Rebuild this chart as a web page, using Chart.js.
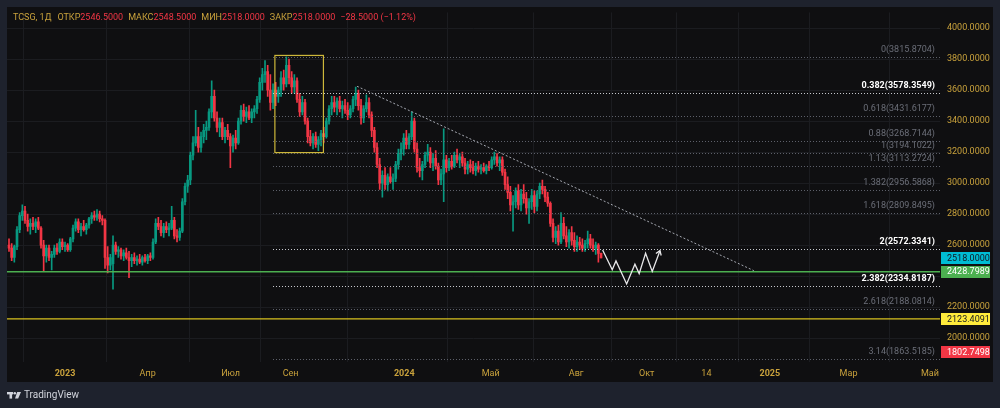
<!DOCTYPE html>
<html lang="ru">
<head>
  <meta charset="UTF-8">
  <title>TCSG, 1Д</title>
  <script src="https://cdn.jsdelivr.net/npm/chart.js@4.4.1/dist/chart.umd.min.js"></script>
  <style>
    html, body { margin: 0; padding: 0; background: #1e222d; }
    #wrap { width: 1000px; height: 408px; }
  </style>
</head>
<body>
<div id="wrap"><canvas id="chart" width="1000" height="408"></canvas></div>
<script>
// daily candles (one bar per ~2 sessions)
var opens = [2600,2580,2520,2590,2700,2790,2820,2760,2720,2740,2720,2750,2710,2600,2530,2580,2520,2540,2580,2560,2620,2590,2600,2570,2640,2710,2750,2700,2720,2700,2730,2770,2790,2780,2800,2770,2760,2520,2470,2480,2600,2560,2570,2530,2550,2520,2500,2520,2500,2510,2490,2520,2500,2530,2520,2620,2740,2720,2680,2720,2700,2710,2760,2660,2650,2690,2880,2980,3020,3180,3260,3300,3230,3300,3340,3360,3460,3560,3420,3360,3390,3300,3340,3300,3240,3290,3260,3400,3470,3430,3460,3420,3460,3480,3540,3650,3700,3720,3600,3520,3600,3560,3600,3680,3640,3760,3680,3620,3660,3540,3460,3520,3400,3300,3260,3300,3250,3280,3320,3300,3400,3480,3520,3490,3530,3480,3500,3470,3440,3480,3540,3580,3500,3420,3480,3520,3440,3340,3230,3120,3000,3050,2990,3040,3010,3030,3120,3190,3220,3290,3250,3300,3400,3220,3100,3080,3120,3180,3200,3130,3160,3110,3020,3060,3150,3100,3140,3110,3180,3150,3170,3130,3090,3120,3100,3080,3110,3090,3100,3080,3110,3100,3150,3170,3130,3150,3070,2990,2940,2860,2880,2950,2860,2930,2900,2840,2880,2920,2850,2930,2980,2960,2910,2870,2740,2650,2690,2620,2740,2660,2620,2680,2630,2590,2620,2600,2580,2610,2640,2600,2580,2600,2546.5];
var highs = [2640,2610,2600,2720,2810,2860,2850,2800,2770,2780,2770,2780,2720,2630,2600,2600,2560,2600,2610,2640,2640,2620,2610,2650,2730,2770,2770,2740,2760,2740,2780,2810,2820,2830,2820,2790,2770,2590,2540,2660,2620,2590,2580,2570,2580,2560,2540,2550,2530,2540,2530,2540,2540,2550,2640,2770,2780,2760,2740,2750,2740,2850,2780,2700,2710,2900,3000,3050,3200,3300,3470,3360,3330,3380,3400,3480,3660,3600,3460,3420,3420,3360,3380,3320,3310,3340,3420,3500,3510,3490,3500,3480,3500,3560,3680,3740,3790,3760,3700,3640,3650,3620,3720,3730,3815,3800,3720,3700,3680,3580,3560,3540,3420,3340,3320,3330,3300,3340,3360,3420,3500,3560,3560,3550,3560,3530,3540,3520,3500,3560,3620,3600,3540,3500,3570,3550,3460,3360,3260,3160,3080,3100,3060,3100,3060,3140,3220,3260,3320,3340,3320,3460,3420,3260,3160,3140,3200,3250,3230,3190,3210,3130,3090,3350,3180,3160,3180,3200,3220,3190,3200,3160,3140,3150,3140,3130,3140,3120,3130,3120,3140,3170,3200,3190,3170,3170,3090,3040,2980,2920,2970,2990,2960,2990,2940,2900,2960,2950,2950,3000,3020,2980,2940,2880,2770,2720,2730,2810,2780,2720,2700,2720,2680,2660,2650,2640,2630,2690,2670,2640,2620,2610,2548.5];
var lows = [2560,2500,2490,2570,2680,2760,2740,2690,2670,2700,2680,2700,2580,2430,2490,2500,2440,2520,2540,2550,2570,2560,2560,2560,2620,2690,2680,2660,2690,2670,2710,2740,2760,2760,2750,2730,2450,2420,2440,2315,2540,2520,2510,2500,2510,2390,2460,2480,2470,2480,2470,2490,2480,2500,2510,2610,2700,2660,2650,2680,2660,2700,2640,2620,2630,2680,2860,2940,2990,3150,3240,3200,3200,3260,3280,3340,3420,3400,3330,3300,3280,3260,3280,3100,3200,3220,3250,3380,3400,3390,3410,3390,3420,3450,3520,3600,3650,3560,3470,3480,3500,3520,3560,3600,3620,3640,3580,3580,3520,3430,3440,3380,3260,3240,3220,3230,3210,3240,3260,3290,3380,3440,3460,3440,3460,3420,3450,3410,3420,3460,3500,3470,3380,3390,3460,3420,3300,3200,3100,2960,2910,2960,2950,3000,2960,3010,3090,3150,3180,3220,3220,3280,3200,3070,3040,3020,3100,3140,3100,3080,3090,2990,2990,2880,3070,3080,3090,3100,3130,3100,3110,3060,3060,3070,3060,3050,3070,3060,3070,3060,3080,3090,3120,3110,3080,3050,2960,2900,2820,2690,2840,2830,2820,2870,2800,2740,2830,2810,2820,2900,2930,2880,2850,2720,2620,2610,2600,2610,2640,2590,2580,2600,2560,2560,2570,2560,2560,2580,2580,2560,2540,2490,2518];
var closes = [2580,2520,2590,2700,2790,2820,2760,2720,2740,2720,2750,2710,2600,2530,2580,2520,2540,2580,2560,2620,2590,2600,2570,2640,2710,2750,2700,2720,2700,2730,2770,2790,2780,2800,2770,2760,2520,2470,2520,2600,2560,2570,2530,2550,2520,2500,2520,2500,2510,2490,2520,2500,2530,2520,2620,2740,2720,2680,2720,2700,2710,2760,2660,2650,2690,2880,2980,3020,3180,3260,3300,3230,3300,3340,3360,3460,3560,3420,3360,3390,3300,3340,3300,3240,3290,3260,3400,3470,3430,3460,3420,3460,3480,3540,3650,3700,3720,3600,3520,3600,3560,3600,3680,3640,3760,3680,3620,3660,3540,3460,3520,3400,3300,3260,3300,3250,3280,3320,3300,3400,3480,3520,3490,3530,3480,3500,3470,3440,3480,3540,3580,3500,3420,3480,3520,3440,3340,3230,3120,3000,3050,2990,3040,3010,3030,3120,3190,3220,3290,3250,3300,3400,3220,3100,3080,3120,3180,3200,3130,3160,3110,3020,3060,3150,3100,3140,3110,3180,3150,3170,3130,3090,3120,3100,3080,3110,3090,3100,3080,3110,3100,3150,3170,3130,3150,3070,2990,2940,2860,2880,2950,2860,2930,2900,2840,2880,2920,2850,2930,2980,2960,2910,2870,2740,2650,2690,2620,2740,2660,2620,2680,2630,2590,2620,2600,2580,2610,2640,2600,2580,2600,2546.5,2518];

// time axis (positions in bar units) and price axis
var tickPos    = [21.0, 52.0, 83.1, 105.6, 148.2, 180.6, 212.7, 239.1, 261.5, 285.3, 314.8, 345.3];
var tickLabels = ['2023','Апр','Июл','Сен','2024','Май','Авг','Окт','14','2025','Мар','Май'];
var priceTicks = [2000, 2200, 2400, 2600, 2800, 3000, 3200, 3400, 3600, 3800, 4000];

// fibonacci extension
var fibRatios = ['0','0.382','0.618','0.88','1','1.13','1.382','1.618','2','2.382','2.618','3.14'];
var fibPrices = [3815.8704,3578.3549,3431.6177,3268.7144,3194.1022,3113.2724,2956.5868,2809.8495,2572.3341,2334.8187,2188.0814,1863.5185];
var fibBold   = ['0.382','2','2.382'];
var fibStart  = 99;

// drawings
var boxX = [99.7, 117.9], boxY = [3824, 3197];
var trendX = [130.5, 279.3], trendY = [3625, 2435];
var zigX = [222.6, 226.2, 227.6, 231.6, 234.7, 236.3, 238.7, 241.2, 244.1];
var zigY = [2568, 2441, 2498, 2349, 2477, 2416, 2547, 2430, 2564];
var greenLevel = 2428.7989;
var yellowLevel = 2123.4091;
var redLevel = 1802.7498;

var UP = '#089981', DOWN = '#f23645';
var GOLD = '#c9a23c';
var FONT = 'Roboto, "Liberation Sans", sans-serif';

var idx = closes.map(function (c, i) { return i; });
var wickData = idx.map(function (i) { return {x: i, y: [lows[i], highs[i]]}; });
var bodyData = idx.map(function (i) {
  return {x: i, y: [Math.min(opens[i], closes[i]), Math.max(opens[i], closes[i])]};
});
function colorOf(c) { var i = c.dataIndex; return closes[i] >= opens[i] ? UP : DOWN; }

function fmt(v) { return (v < 0 ? '\u2212' : '') + Math.abs(v).toFixed(4); }

var decor = {
  id: 'decor',
  beforeDraw: function (chart) {
    var ctx = chart.ctx;
    ctx.save();
    ctx.fillStyle = '#1e222d';
    ctx.fillRect(0, 0, 1000, 408);
    ctx.fillStyle = '#0f0f11';
    ctx.fillRect(7, 7, 986, 375);
    ctx.restore();
  },
  afterDatasetsDraw: function (chart) {
    var ctx = chart.ctx, xs = chart.scales.x, ys = chart.scales.y, a = chart.chartArea;
    function px(v) { return xs.getPixelForValue(v); }
    function py(v) { return ys.getPixelForValue(v); }
    ctx.save();
    ctx.beginPath();
    ctx.rect(a.left, a.top, a.right - a.left, a.bottom - a.top);
    ctx.clip();

    // horizontal levels
    ctx.lineWidth = 1.5;
    ctx.strokeStyle = '#4caf50';
    ctx.beginPath(); ctx.moveTo(a.left, py(greenLevel)); ctx.lineTo(a.right, py(greenLevel)); ctx.stroke();
    ctx.lineWidth = 1.3;
    ctx.strokeStyle = '#d9c21f';
    ctx.beginPath(); ctx.moveTo(a.left, py(yellowLevel)); ctx.lineTo(a.right, py(yellowLevel)); ctx.stroke();

    // fib levels
    ctx.textAlign = 'right';
    ctx.textBaseline = 'bottom';
    fibPrices.forEach(function (p, k) {
      var bold = fibBold.indexOf(fibRatios[k]) >= 0;
      var y = Math.round(py(p)) + 0.5;
      ctx.setLineDash([1, 2]);
      ctx.strokeStyle = bold ? '#c9cbd1' : '#5f626c';
      ctx.lineWidth = 1;
      ctx.beginPath(); ctx.moveTo(px(fibStart), y); ctx.lineTo(a.right, y); ctx.stroke();
      ctx.setLineDash([]);
      ctx.font = (bold ? 'bold ' : '') + '9px ' + FONT;
      ctx.fillStyle = bold ? '#ffffff' : '#6b6e78';
      ctx.fillText(fibRatios[k] + '(' + p.toFixed(4) + ')', a.right - 5, y - 3);
    });

    // yellow box
    ctx.strokeStyle = '#cdb73a';
    ctx.lineWidth = 1.2;
    ctx.strokeRect(px(boxX[0]), py(boxY[0]), px(boxX[1]) - px(boxX[0]), py(boxY[1]) - py(boxY[0]));

    // trend line
    ctx.setLineDash([2, 2]);
    ctx.strokeStyle = '#a4a7b0';
    ctx.lineWidth = 1;
    ctx.beginPath(); ctx.moveTo(px(trendX[0]), py(trendY[0])); ctx.lineTo(px(trendX[1]), py(trendY[1])); ctx.stroke();
    ctx.setLineDash([]);

    // projected path
    ctx.strokeStyle = '#e8e8ea';
    ctx.lineWidth = 1.3;
    ctx.lineJoin = 'miter';
    ctx.beginPath();
    zigX.forEach(function (v, k) {
      if (k === 0) ctx.moveTo(px(v), py(zigY[k])); else ctx.lineTo(px(v), py(zigY[k]));
    });
    ctx.stroke();
    var n = zigX.length - 1;
    var ex = px(zigX[n]), ey = py(zigY[n]);
    var ang = Math.atan2(ey - py(zigY[n - 1]), ex - px(zigX[n - 1]));
    ctx.beginPath();
    ctx.moveTo(ex - 5 * Math.cos(ang - 0.6), ey - 5 * Math.sin(ang - 0.6));
    ctx.lineTo(ex, ey);
    ctx.lineTo(ex - 5 * Math.cos(ang + 0.6), ey - 5 * Math.sin(ang + 0.6));
    ctx.stroke();
    ctx.restore();
  },
  afterDraw: function (chart) {
    var ctx = chart.ctx, ys = chart.scales.y, a = chart.chartArea;
    ctx.save();

    // price labels on the axis
    var last = closes.length - 1;
    var tags = [
      [closes[last], '#00bcd4', '#131722'],
      [greenLevel, '#4caf50', '#ffffff'],
      [yellowLevel, '#ffeb3b', '#131722'],
      [redLevel, '#f23645', '#ffffff']
    ];
    ctx.font = '9px ' + FONT;
    ctx.textAlign = 'left';
    ctx.textBaseline = 'middle';
    tags.forEach(function (t) {
      var y = Math.min(ys.getPixelForValue(t[0]), a.bottom - 10);
      ctx.fillStyle = t[1];
      ctx.fillRect(a.right + 1, Math.round(y - 6), 49, 12);
      ctx.fillStyle = t[2];
      ctx.fillText(t[0].toFixed(4), a.right + 7, y + 0.5);
    });

    // legend line
    var chg = closes[last] - closes[last - 1];
    var pct = chg / closes[last - 1] * 100;
    var parts = [
      ['TCSG, 1Д', GOLD, 6],
      ['ОТКР', GOLD, 0], [opens[last].toFixed(4), DOWN, 5],
      ['МАКС', GOLD, 0], [highs[last].toFixed(4), DOWN, 5],
      ['МИН', GOLD, 0], [lows[last].toFixed(4), DOWN, 5],
      ['ЗАКР', GOLD, 0], [closes[last].toFixed(4), DOWN, 5],
      [fmt(chg) + ' (' + (pct < 0 ? '\u2212' : '') + Math.abs(pct).toFixed(2) + '%)', DOWN, 0]
    ];
    ctx.font = '9px ' + FONT;
    var x = 13;
    parts.forEach(function (p) {
      ctx.fillStyle = p[1];
      ctx.fillText(p[0], x, 17.5);
      x += ctx.measureText(p[0]).width + p[2];
    });

    // TradingView mark
    ctx.fillStyle = '#d1d4dc';
    ctx.fillRect(7, 392, 6, 2.4);
    ctx.fillRect(9.5, 392, 2.6, 6.6);
    ctx.beginPath(); ctx.arc(14.8, 393.3, 1.3, 0, Math.PI * 2); ctx.fill();
    ctx.beginPath();
    ctx.moveTo(17.2, 392); ctx.lineTo(21, 392); ctx.lineTo(18.2, 398.6); ctx.lineTo(15, 398.6);
    ctx.closePath(); ctx.fill();
    ctx.font = '10px ' + FONT;
    ctx.fillText('TradingView', 24, 395.5);
    ctx.restore();
  }
};

new Chart(document.getElementById('chart'), {
  type: 'bar',
  data: {
    datasets: [{
      data: wickData,
      backgroundColor: colorOf,
      barThickness: 1,
      grouped: false,
      borderWidth: 0
    }, {
      data: bodyData,
      backgroundColor: colorOf,
      barThickness: 2,
      minBarLength: 1,
      grouped: false,
      borderWidth: 0
    }]
  },
  options: {
    responsive: false,
    animation: false,
    events: [],
    layout: { padding: { left: 7, top: 7, right: 7, bottom: 26 } },
    plugins: { legend: { display: false }, tooltip: { enabled: false } },
    scales: {
      x: {
        type: 'linear',
        offset: false,
        min: -0.75,
        max: 349.1,
        afterFit: function (s) { s.height = 20; },
        afterBuildTicks: function (s) { s.ticks = tickPos.map(function (v) { return {value: v}; }); },
        grid: { color: '#1b1c20', drawTicks: false },
        border: { display: false },
        ticks: {
          autoSkip: false,
          maxRotation: 0,
          padding: 6,
          color: GOLD,
          font: function (c) {
            var lab = tickLabels[c.index] || '';
            return { family: FONT, size: 9, weight: /^\d{4}$/.test(lab) ? 'bold' : 'normal' };
          },
          callback: function (v, i) { return tickLabels[i]; }
        }
      },
      y: {
        position: 'right',
        min: 1845.6,
        max: 4101.7,
        afterFit: function (s) { s.width = 53; },
        afterBuildTicks: function (s) { s.ticks = priceTicks.map(function (v) { return {value: v}; }); },
        grid: { color: '#1b1c20', drawTicks: false },
        border: { display: false },
        ticks: {
          padding: 7,
          color: GOLD,
          font: { family: FONT, size: 9 },
          callback: function (v) { return Number(v).toFixed(4); }
        }
      }
    }
  },
  plugins: [decor]
});
</script>
</body>
</html>
